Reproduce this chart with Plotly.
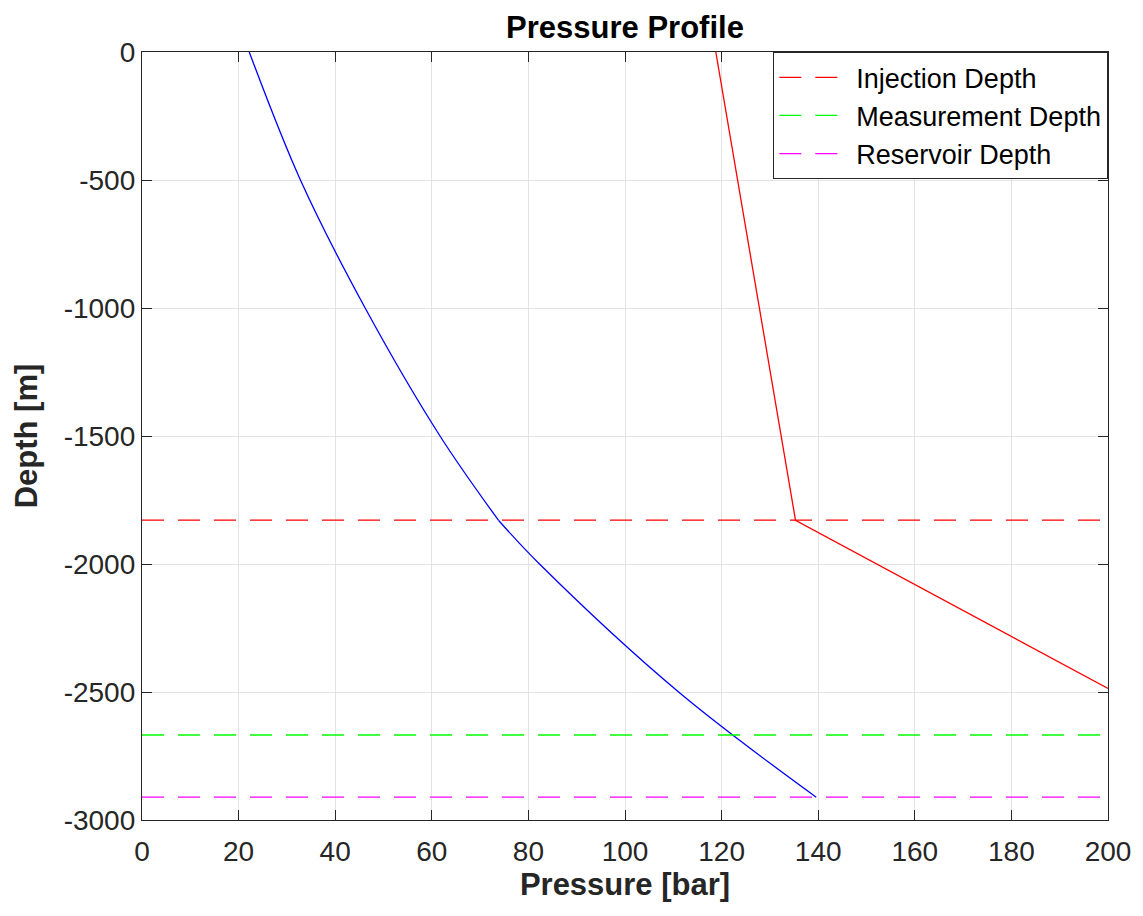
import plotly.graph_objects as go

# Tubing pressure (bar) versus depth (m): above and below the injection point
depth_tubing_upper = [0, -500, -1000, -1500, -1829]
pressure_tubing_upper = [22.2, 32.8, 46.2, 61.7, 73.8]
depth_tubing_lower = [-1829, -2000, -2500, -2911]
pressure_tubing_lower = [73.8, 82.3, 111.1, 139.6]

# Annulus pressure (bar) versus depth (m)
depth_annulus = [0, -1829, -2486]
pressure_annulus = [118.8, 135.3, 200.0]

# Reference depths (m)
marker_names = ["Injection Depth", "Measurement Depth", "Reservoir Depth"]
marker_depths = [-1829, -2668, -2911]
marker_colors = ["#ff0000", "#00ff00", "#ff00ff"]

x_range = [0, 200]
y_range = [-3000, 0]
x_ticks = list(range(0, 201, 20))
y_ticks = list(range(-3000, 1, 500))

FONT = "Liberation Sans, Arial, Helvetica, sans-serif"
AXIS_COLOR = "#262626"

fig = go.Figure()

for xs, ys in ((pressure_tubing_upper, depth_tubing_upper),
               (pressure_tubing_lower, depth_tubing_lower)):
    fig.add_trace(go.Scatter(
        x=xs, y=ys, mode="lines", line_shape="spline",
        line=dict(color="#0000ff", width=1.3), showlegend=False,
    ))
fig.add_trace(go.Scatter(
    x=pressure_annulus, y=depth_annulus, mode="lines",
    line=dict(color="#ff0000", width=1.3), showlegend=False,
))

for name, d, c in zip(marker_names, marker_depths, marker_colors):
    fig.add_trace(go.Scatter(
        x=x_range, y=[d, d], mode="lines", name=name,
        line=dict(color=c, width=1.3, dash="22px,14px"),
    ))

axis_common = dict(
    showline=True, linecolor=AXIS_COLOR, linewidth=1.3, mirror="ticks",
    ticks="inside", ticklen=10, tickwidth=1.3, tickcolor=AXIS_COLOR,
    showgrid=True, gridcolor="#e3e3e3", gridwidth=1.3, zeroline=False,
    tickfont=dict(family=FONT, size=28, color=AXIS_COLOR),
)

fig.update_xaxes(
    range=x_range, tickvals=x_ticks, ticktext=[str(v) for v in x_ticks],
    ticklabelstandoff=6, **axis_common,
    title=dict(text="<b>Pressure [bar]</b>", standoff=2,
               font=dict(family=FONT, size=31, color=AXIS_COLOR)),
)
fig.update_yaxes(
    range=y_range, tickvals=y_ticks, ticktext=[str(v) for v in y_ticks],
    **axis_common,
    title=dict(text="<b>Depth [m]</b>", standoff=16,
               font=dict(family=FONT, size=31, color=AXIS_COLOR)),
)

fig.update_layout(
    width=1143, height=916,
    margin=dict(l=142, r=29, t=52, b=96),
    paper_bgcolor="white", plot_bgcolor="white",
    font=dict(family=FONT, color=AXIS_COLOR),
    title=dict(text="<b>Pressure Profile</b>", x=0.5, xref="paper",
               xanchor="center", y=1 - 27 / 916, yanchor="middle",
               font=dict(family=FONT, size=31, color="#000000")),
    legend=dict(
        x=1, y=1, xanchor="right", yanchor="top",
        bgcolor="white", bordercolor="#262626", borderwidth=1.3,
        font=dict(family=FONT, size=27, color="#000000"),
        itemwidth=72,
    ),
)

fig.write_html("out.html")
